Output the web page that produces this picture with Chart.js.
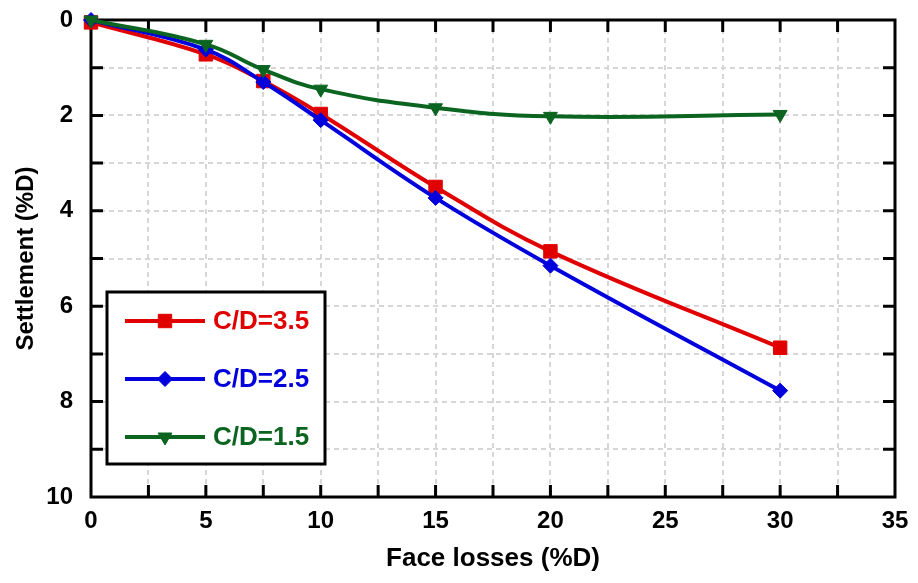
<!DOCTYPE html>
<html>
<head>
<meta charset="utf-8">
<script src="https://cdn.jsdelivr.net/npm/chart.js@4.4.1/dist/chart.umd.min.js"></script>
<style>
  html, body { margin: 0; padding: 0; background: #fff; }
  #wrap { width: 918px; height: 583px; }
</style>
</head>
<body>
<div id="wrap"><canvas id="grafico"></canvas></div>
<script>
// face losses (%D)
const faceLosses = [0, 5, 7.5, 10, 15, 20, 30];
// settlement (%D) per cover ratio
const settleCD35 = [0.05, 0.72, 1.28, 1.97, 3.5, 4.85, 6.87];
const settleCD25 = [0.0, 0.62, 1.3, 2.1, 3.73, 5.15, 7.77];
const settleCD15 = [0.0, 0.51, 1.04, 1.45, 1.84, 2.02, 1.98];
const xLabels = [0, 5, 10, 15, 20, 25, 30, 35];
const yLabels = [0, 2, 4, 6, 8, 10];

const FONT = "'Liberation Sans', Arial, sans-serif";

function pts(ys) {
    return faceLosses.map((x, i) => ({ x: x, y: ys[i] }));
}

// frame with inward ticks on all four sides
const frame = {
    id: 'frame',
    beforeDatasetsDraw(chart) {
        const ctx = chart.ctx;
        const a = chart.chartArea;
        const sx = chart.scales.x, sy = chart.scales.y;
        const len = 12;
        ctx.save();
        ctx.strokeStyle = '#000';
        ctx.lineWidth = 3;
        ctx.beginPath();
        sx.ticks.forEach(t => {
            const px = sx.getPixelForValue(t.value);
            if (t.value === sx.min || t.value === sx.max) return;
            ctx.moveTo(px, a.bottom); ctx.lineTo(px, a.bottom - len);
            ctx.moveTo(px, a.top); ctx.lineTo(px, a.top + len);
        });
        sy.ticks.forEach(t => {
            const py = sy.getPixelForValue(t.value);
            if (t.value === sy.min || t.value === sy.max) return;
            ctx.moveTo(a.left, py); ctx.lineTo(a.left + len, py);
            ctx.moveTo(a.right, py); ctx.lineTo(a.right - len, py);
        });
        ctx.stroke();
        ctx.strokeRect(a.left, a.top, a.right - a.left, a.bottom - a.top);
        ctx.restore();
    }
};

// boxed legend inside the plot
const boxLegend = {
    id: 'boxLegend',
    afterDraw(chart) {
        const ctx = chart.ctx;
        const a = chart.chartArea;
        const bx = a.left + 16, by = a.top + 272, bw = 218, bh = 172;
        ctx.save();
        ctx.fillStyle = '#fff';
        ctx.fillRect(bx, by, bw, bh);
        ctx.strokeStyle = '#000';
        ctx.lineWidth = 3;
        ctx.strokeRect(bx, by, bw, bh);
        ctx.font = 'bold 26px ' + FONT;
        ctx.textBaseline = 'middle';
        chart.data.datasets.forEach((ds, i) => {
            const y = by + 29 + i * 58;
            ctx.strokeStyle = ds.borderColor;
            ctx.lineWidth = ds.borderWidth;
            ctx.beginPath();
            ctx.moveTo(bx + 18, y);
            ctx.lineTo(bx + 98, y);
            ctx.stroke();
            ctx.fillStyle = ds.backgroundColor;
            ctx.strokeStyle = ds.borderColor;
            ctx.lineWidth = 1;
            Chart.helpers.drawPoint(ctx, {
                pointStyle: ds.pointStyle,
                rotation: ds.pointRotation || 0,
                radius: ds.pointRadius,
                borderWidth: 1
            }, bx + 58, y);
            ctx.fillStyle = ds.borderColor;
            ctx.fillText(ds.label, bx + 106, y + 1);
        });
        ctx.restore();
    }
};

const ctx = document.getElementById('grafico').getContext('2d');
new Chart(ctx, {
    type: 'line',
    data: {
        datasets: [{
            label: 'C/D=3.5',
            data: pts(settleCD35),
            borderColor: '#e00000',
            backgroundColor: '#e00000',
            borderWidth: 4,
            pointStyle: 'rect',
            pointRadius: 9.5,
            pointBorderWidth: 1,
            tension: 0.4,
            clip: false,
            order: 3
        }, {
            label: 'C/D=2.5',
            data: pts(settleCD25),
            borderColor: '#0000dc',
            backgroundColor: '#0000dc',
            borderWidth: 4,
            pointStyle: 'rectRot',
            pointRadius: 7.5,
            pointBorderWidth: 1,
            tension: 0.4,
            clip: false,
            order: 2
        }, {
            label: 'C/D=1.5',
            data: pts(settleCD15),
            borderColor: '#0b6420',
            backgroundColor: '#0b6420',
            borderWidth: 4,
            pointStyle: 'triangle',
            pointRotation: 180,
            pointRadius: 8,
            pointBorderWidth: 1,
            tension: 0.45,
            clip: false,
            order: 1
        }]
    },
    options: {
        responsive: true,
        maintainAspectRatio: false,
        animation: false,
        layout: { padding: { top: 20, right: 23, left: 0, bottom: 0 } },
        plugins: {
            legend: { display: false },
            tooltip: { enabled: false }
        },
        scales: {
            x: {
                type: 'linear',
                min: 0,
                max: 35,
                afterFit: s => {
                    s.height = 86;
                    s.paddingLeft = 0;
                    s.paddingRight = 0;
                },
                ticks: {
                    stepSize: 2.5,
                    padding: 10,
                    color: '#000',
                    font: { family: FONT, size: 24, weight: 'bold' },
                    callback: v => xLabels.includes(v) ? String(v) : ''
                },
                grid: { color: '#d6d6d6', lineWidth: 2, drawTicks: false },
                border: { display: false, dash: [5, 4] },
                title: {
                    display: true,
                    text: 'Face losses (%D)',
                    color: '#000',
                    font: { family: FONT, size: 26, weight: 'bold' },
                    padding: { top: 0, bottom: 9 }
                }
            },
            y: {
                type: 'linear',
                reverse: true,
                min: 0,
                max: 10,
                afterFit: s => {
                    s.width = 91;
                    s.paddingTop = 0;
                    s.paddingBottom = 0;
                },
                ticks: {
                    stepSize: 1,
                    padding: 18,
                    color: '#000',
                    font: { family: FONT, size: 24, weight: 'bold' },
                    callback: v => yLabels.includes(v) ? String(v) : ''
                },
                grid: { color: '#d6d6d6', lineWidth: 2, drawTicks: false },
                border: { display: false, dash: [5, 4] },
                title: {
                    display: true,
                    text: 'Settlement (%D)',
                    color: '#000',
                    font: { family: FONT, size: 24, weight: 'bold' },
                    padding: { top: 12, bottom: 0 }
                }
            }
        }
    },
    plugins: [frame, boxLegend]
});
</script>
</body>
</html>
